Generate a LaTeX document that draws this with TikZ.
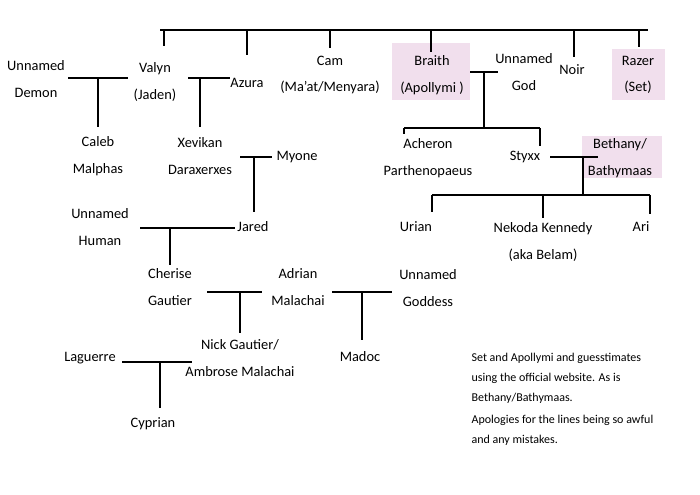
\documentclass[tikz,border=0pt]{standalone}
\usepackage{fontspec}
\setmainfont{Carlito}
\usetikzlibrary{positioning}

\begin{document}
\begin{tikzpicture}[x=0.75pt,y=-0.75pt,
    person/.style={align=center,font=\fontsize{10.8}{20}\selectfont,inner sep=1pt},
    hilite/.style={fill=pink!40!violet!18,draw=none},
    line/.style={thick}]
        \useasboundingbox (0,0) rectangle (700,495);

        % highlighted boxes
        \fill[hilite] (392,43) rectangle (470,100);
        \fill[hilite] (612,49) rectangle (665,100);
        \fill[hilite] (582,136) rectangle (662,178);

        % names
        \node[person] (demon) at (36,79) {Unnamed\\Demon};
        \node[person] (valyn) at (155,82) {Valyn\\(Jaden)};
        \node[person] (azura) at (247,83) {Azura};
        \node[person] (cam) at (330,75) {Cam\\(Ma’at/Menyara)};
        \node[person] (braith) at (432,75) {Braith\\(Apollymi )};
        \node[person] (god) at (524,72) {Unnamed\\God};
        \node[person] (noir) at (572,70) {Noir};
        \node[person] (razer) at (638,75) {Razer\\(Set)};
        \node[person] (caleb) at (98,156) {Caleb\\Malphas};
        \node[person] (xevikan) at (200,156) {Xevikan\\Daraxerxes};
        \node[person] (myone) at (297,157) {Myone};
        \node[person] (jared) at (253,227) {Jared};
        \node[person] (human) at (100,227) {Unnamed\\Human};
        \node[person] (cherise) at (170,287) {Cherise\\Gautier};
        \node[person] (adrian) at (298,287) {Adrian\\Malachai};
        \node[person] (goddess) at (428,288) {Unnamed\\Goddess};
        \node[person] (nick) at (240,358) {Nick Gautier/\\Ambrose Malachai};
        \node[person] (madoc) at (360,357) {Madoc};
        \node[person] (laguerre) at (90,358) {Laguerre};
        \node[person] (cyprian) at (153,424) {Cyprian};
        \node[person] (acheron) at (428,158) {Acheron\\Parthenopaeus};
        \node[person] (styxx) at (525,157) {Styxx};
        \node[person] (bethany) at (620,158) {Bethany/\\Bathymaas};
        \node[person] (urian) at (416,227) {Urian};
        \node[person] (nekoda) at (543,242) {Nekoda Kennedy\\(aka Belam)};
        \node[person] (ari) at (641,227) {Ari};
        \node[person,align=flush left,anchor=north west,font=\fontsize{9}{15}\selectfont,text width=146pt] (note) at (470,352)
            {Set and Apollymi and guesstimates using the official website. As is Bethany/Bathymaas.\\[1pt]
             Apologies for the lines being so awful and any mistakes.};

        % top sibling line
        \coordinate (top) at (160,30);
        \draw[line] (top) -- (648,30);
        \foreach \x/\y in {164/46, 247/55, 330/48, 431/52, 574/57, 639/47}
            \draw[line] (\x,30) -- (\x,\y);

        % couples and children
        \draw[line] (68,78) -- (128,78);
        \draw[line] (98,78) -- (98,127);
        \draw[line] (188,78) -- (230,78);
        \draw[line] (200,78) -- (200,127);
        \draw[line] (240,157) -- (272,157);
        \draw[line] (254,157) -- (254,212);
        \draw[line] (140,228) -- (235,228);
        \draw[line] (170,228) -- (170,265);
        \draw[line] (207,292) -- (262,292);
        \draw[line] (240,292) -- (240,333);
        \draw[line] (332,292) -- (392,292);
        \draw[line] (362,292) -- (362,340);
        \draw[line] (122,362) -- (192,362);
        \draw[line] (160,362) -- (160,408);
        \draw[line] (470,72) -- (498,72);
        \draw[line] (484,72) -- (484,128);
        \draw[line] (404,128) -- (540,128);
        \draw[line] (404,128) -- (404,134);
        \draw[line] (540,128) -- (540,146);
        \draw[line] (550,157) -- (598,157);
        \draw[line] (583,157) -- (583,195);
        \draw[line] (432,195) -- (650,195);
        \draw[line] (432,195) -- (432,212);
        \draw[line] (543,195) -- (543,218);
        \draw[line] (650,195) -- (650,214);
    \end{tikzpicture}
\end{document}
